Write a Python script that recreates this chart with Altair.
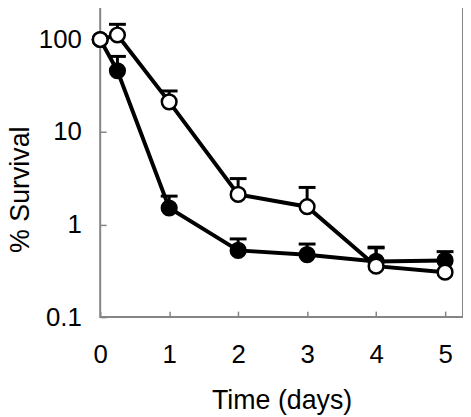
import altair as alt
import pandas as pd

# ---- data ----
time_days = [0, 0.25, 1, 2, 3, 4, 5]
filled_survival = [100, 46, 1.51, 0.526, 0.473, 0.40, 0.41]
filled_err_top = [None, 65.7, 2.03, 0.70, 0.616, 0.57, 0.51]
open_survival = [100, 112, 21.2, 2.12, 1.56, 0.355, 0.306]
open_err_top = [None, 146, 27.8, 3.14, 2.52, 0.56, None]
x_ticks = [0, 1, 2, 3, 4, 5]
y_ticks = [0.1, 1, 10, 100]

rows = []
for t, s, e in zip(time_days, filled_survival, filled_err_top):
    rows.append({"time": t, "survival": s, "err_top": e, "series": "filled"})
for t, s, e in zip(time_days, open_survival, open_err_top):
    rows.append({"time": t, "survival": s, "err_top": e, "series": "open"})
df = pd.DataFrame(rows)

FONT = "Liberation Sans"

x_enc = alt.X(
    "time:Q",
    scale=alt.Scale(domain=[0, 5.26], nice=False, zero=False),
    axis=alt.Axis(values=x_ticks, format="d", title="Time (days)",
                  offset=-6, labelPadding=25, titlePadding=20, labelFlush=False),
)
y_axis = alt.Axis(values=y_ticks, format="~g", title="% Survival",
                  offset=-6, labelPadding=19, titlePadding=4, titleY=186,
                  labelFlush=False)
y_scale = alt.Scale(type="log", domain=[0.1, 237], nice=False)


def y_enc(field):
    return alt.Y(field, scale=y_scale, axis=y_axis)


base_f = alt.Chart(df).transform_filter(alt.datum.series == "filled")
base_o = alt.Chart(df).transform_filter(alt.datum.series == "open")

line_f = base_f.mark_line(color="black", strokeWidth=4).encode(x=x_enc, y=y_enc("survival:Q"))
line_o = base_o.mark_line(color="black", strokeWidth=4).encode(x=x_enc, y=y_enc("survival:Q"))


def err_layers(d):
    dd = d.transform_filter("isValid(datum.err_top)")
    rule = dd.mark_rule(color="black", strokeWidth=3).encode(
        x=x_enc, y=y_enc("survival:Q"), y2="err_top:Q")
    cap = dd.mark_tick(color="black", orient="horizontal", size=17, thickness=3,
                       opacity=1).encode(x=x_enc, y=y_enc("err_top:Q"))
    return rule, cap


rule_f, cap_f = err_layers(base_f)
rule_o, cap_o = err_layers(base_o)

pts_f = base_f.mark_point(shape="circle", filled=True, fill="black", stroke="black",
                          strokeWidth=2.5, size=220, opacity=1).encode(
    x=x_enc, y=y_enc("survival:Q"))
pts_o = base_o.mark_point(shape="circle", filled=True, fill="white", stroke="black",
                          strokeWidth=2.5, size=220, opacity=1).encode(
    x=x_enc, y=y_enc("survival:Q"))

chart = alt.layer(
    line_f, line_o, rule_f, cap_f, rule_o, cap_o, pts_f, pts_o
).properties(
    width=366,
    height=315,
    autosize=alt.AutoSizeParams(type="none"),
    padding={"left": 93, "top": -5, "right": 0, "bottom": 104},
).configure_view(
    stroke="#858585", strokeWidth=2
).configure_axis(
    domain=False,
    grid=False,
    tickColor="#858585",
    tickWidth=1.5,
    tickSize=6,
    labelFont=FONT,
    labelFontSize=26,
    labelColor="black",
    titleFont=FONT,
    titleFontSize=27,
    titleFontWeight="normal",
    titleColor="black",
    labelOverlap=False,
)

chart.save("out.html", embed_options={"renderer": "svg", "actions": False})
